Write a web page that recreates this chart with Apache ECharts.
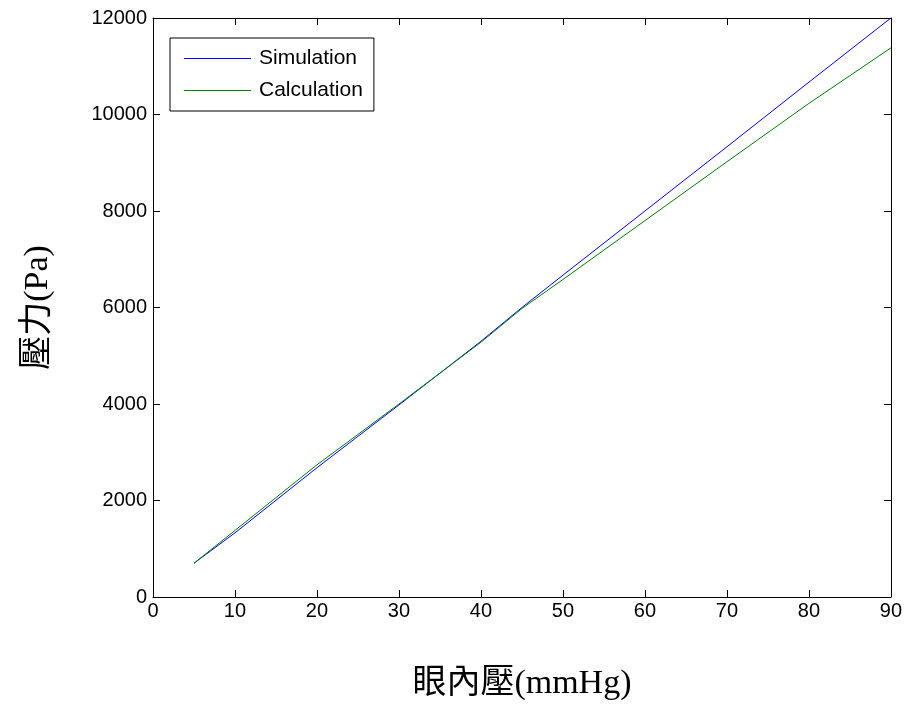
<!DOCTYPE html>
<html><head><meta charset="utf-8">
<script src="https://cdn.jsdelivr.net/npm/echarts@6/dist/echarts.min.js"></script>
<style>html,body{margin:0;padding:0;background:#fff}#c{width:905px;height:706px}</style>
</head><body><div id="c"></div>
<script>
const xValues = [5, 10, 20, 30, 40, 45, 50, 60, 70, 80, 90];
const simulation = [700, 1330, 2680, 3980, 5300, 6000, 6670, 8000, 9330, 10670, 12000];
const calculation = [700, 1380, 2740, 4000, 5280, 5980, 6580, 7800, 9020, 10230, 11380];
const seriesNames = ['Simulation', 'Calculation'];
const xTitle = '眼內壓(mmHg)';
const yTitle = '壓力(Pa)';

const chart = echarts.init(document.getElementById('c'));
const tickFont = {color: '#000', fontSize: 20, fontFamily: 'Liberation Sans, Arial, sans-serif'};
const titleFont = {color: '#000', fontSize: 34, fontFamily: "'Liberation Serif', 'Noto Sans CJK TC', serif"};
const axisBase = {
  axisLine: {show: true, onZero: false, lineStyle: {color: '#000', width: 1}},
  axisTick: {show: true, inside: true, length: 7, lineStyle: {color: '#000'}},
  splitLine: {show: false}
};
const plain = v => String(v);
chart.setOption({
  animation: false,
  backgroundColor: '#fff',
  grid: {left: 153, right: 14, top: 18, bottom: 108},
  legend: {
    orient: 'vertical', left: 170, top: 38,
    data: seriesNames,
    icon: 'rect', itemWidth: 67, itemHeight: 1, itemGap: 11,
    padding: [10, 11, 10, 14],
    borderColor: '#000', borderWidth: 1, backgroundColor: '#fff',
    textStyle: {color: '#000', fontSize: 21, fontFamily: 'Liberation Sans, Arial, sans-serif', padding: [0, 0, 0, 3]}
  },
  xAxis: [
    Object.assign({type: 'value', min: 0, max: 90, interval: 10, position: 'bottom',
      axisLabel: Object.assign({margin: 4, formatter: plain}, tickFont),
      name: xTitle, nameLocation: 'middle', nameGap: 70, nameTextStyle: titleFont}, axisBase),
    Object.assign({type: 'value', min: 0, max: 90, interval: 10, position: 'top', axisLabel: {show: false}}, axisBase)
  ],
  yAxis: [
    Object.assign({type: 'value', min: 0, max: 12000, interval: 2000, position: 'left',
      axisLabel: Object.assign({margin: 6, formatter: plain}, tickFont),
      name: yTitle, nameLocation: 'middle', nameGap: 98, nameRotate: 90, nameTextStyle: titleFont}, axisBase),
    Object.assign({type: 'value', min: 0, max: 12000, interval: 2000, position: 'right', axisLabel: {show: false}}, axisBase)
  ],
  series: [
    {name: seriesNames[0], type: 'line', data: xValues.map((x, i) => [x, simulation[i]]),
     showSymbol: false, lineStyle: {color: '#0000ff', width: 1}, itemStyle: {color: '#0000ff'}},
    {name: seriesNames[1], type: 'line', data: xValues.map((x, i) => [x, calculation[i]]),
     showSymbol: false, lineStyle: {color: '#008000', width: 1}, itemStyle: {color: '#008000'}}
  ]
});
</script></body></html>
